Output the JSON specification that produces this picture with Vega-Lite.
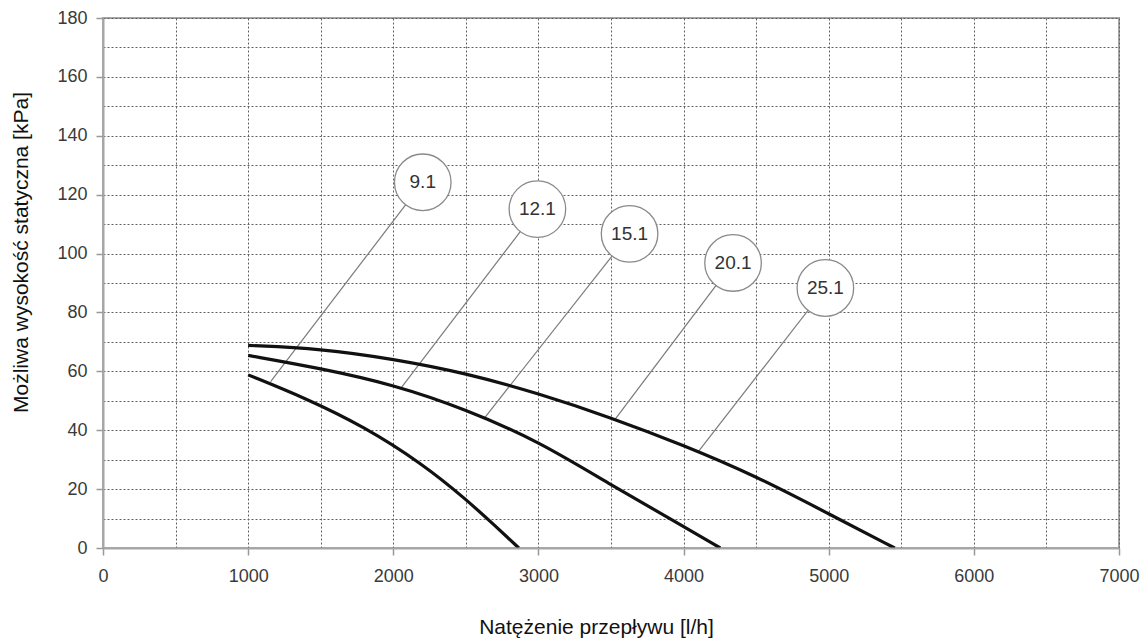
{
  "$schema": "https://vega.github.io/schema/vega-lite/v6.json",
  "width": 1016,
  "height": 530,
  "autosize": {"type": "none"},
  "padding": {"left": 103, "top": 18, "right": 28, "bottom": 93},
  "background": "white",
  "config": {
    "view": {"stroke": "#a6a6a6", "strokeWidth": 2},
    "font": "Liberation Sans"
  },
  "datasets": {
    "curves": [
      {"curve": "A", "flow": 1000, "head": 58.8},
      {"curve": "A", "flow": 1400, "head": 50.8},
      {"curve": "A", "flow": 1800, "head": 41.2},
      {"curve": "A", "flow": 2200, "head": 28.6},
      {"curve": "A", "flow": 2500, "head": 16.6},
      {"curve": "A", "flow": 2700, "head": 7.6},
      {"curve": "A", "flow": 2865, "head": 0},
      {"curve": "B", "flow": 1000, "head": 65.4},
      {"curve": "B", "flow": 1500, "head": 61.0},
      {"curve": "B", "flow": 2000, "head": 55.5},
      {"curve": "B", "flow": 2500, "head": 47.1},
      {"curve": "B", "flow": 3000, "head": 36.3},
      {"curve": "B", "flow": 3500, "head": 21.4},
      {"curve": "B", "flow": 4000, "head": 7.3},
      {"curve": "B", "flow": 4253, "head": 0},
      {"curve": "C", "flow": 1000, "head": 68.8},
      {"curve": "C", "flow": 1500, "head": 67.7},
      {"curve": "C", "flow": 2000, "head": 64.2},
      {"curve": "C", "flow": 2500, "head": 59.4},
      {"curve": "C", "flow": 3000, "head": 52.5},
      {"curve": "C", "flow": 3500, "head": 44.3},
      {"curve": "C", "flow": 4000, "head": 34.9},
      {"curve": "C", "flow": 4500, "head": 24.4},
      {"curve": "C", "flow": 5000, "head": 11.6},
      {"curve": "C", "flow": 5455, "head": 0}
    ],
    "labels": [
      {"model": "9.1", "x0": 1155, "y0": 56.5, "x1": 2203, "y1": 124.2},
      {"model": "12.1", "x0": 2058, "y0": 54.6, "x1": 2993, "y1": 115.1},
      {"model": "15.1", "x0": 2632, "y0": 44.4, "x1": 3628, "y1": 106.7},
      {"model": "20.1", "x0": 3529, "y0": 43.8, "x1": 4341, "y1": 96.8},
      {"model": "25.1", "x0": 4103, "y0": 32.8, "x1": 4977, "y1": 88.3}
    ]
  },
  "resolve": {"axis": {"x": "independent", "y": "independent"}},
  "layer": [
    {
      "data": {"name": "labels"},
      "mark": {"type": "rule", "color": "#7a7a7a", "strokeWidth": 1.2},
      "encoding": {
        "x": {
          "field": "x0", "type": "quantitative",
          "scale": {"domain": [0, 7000], "nice": false, "zero": false},
          "axis": {
            "orient": "bottom",
            "values": [0, 500, 1000, 1500, 2000, 2500, 3000, 3500, 4000, 4500, 5000, 5500, 6000, 6500, 7000],
            "grid": true, "gridColor": "#606060", "gridDash": [2, 2], "gridWidth": 1, "gridOpacity": 1,
            "labels": false, "ticks": false, "domain": false, "title": null, "zindex": 0
          }
        },
        "y": {
          "field": "y0", "type": "quantitative",
          "scale": {"domain": [0, 180], "nice": false},
          "axis": {
            "orient": "left",
            "values": [0, 10, 20, 30, 40, 50, 60, 70, 80, 90, 100, 110, 120, 130, 140, 150, 160, 170, 180],
            "grid": true, "gridColor": "#606060", "gridDash": [2, 2], "gridWidth": 1, "gridOpacity": 1,
            "labels": false, "ticks": false, "domain": false, "title": null, "zindex": 0
          }
        },
        "x2": {"field": "x1"},
        "y2": {"field": "y1"}
      }
    },
    {
      "data": {"name": "curves"},
      "mark": {"type": "line", "interpolate": "basis", "color": "#111111", "strokeWidth": 3.2},
      "encoding": {
        "x": {
          "field": "flow", "type": "quantitative",
          "axis": {
            "orient": "bottom",
            "values": [0, 1000, 2000, 3000, 4000, 5000, 6000, 7000],
            "format": "d",
            "labelOverlap": false,
            "labelFlush": false,
            "grid": false,
            "tickSize": 7, "tickColor": "#999999", "tickWidth": 1.5,
            "domainColor": "#a6a6a6", "domainWidth": 2,
            "labelFontSize": 18, "labelColor": "#3a3a3a", "labelPadding": 12,
            "title": "Natężenie przepływu [l/h]",
            "titleFontSize": 21, "titleFontWeight": "normal", "titleColor": "#111111",
            "titleX": 493, "titleY": 79, "titleBaseline": "middle", "titleAlign": "center",
            "zindex": 1
          }
        },
        "y": {
          "field": "head", "type": "quantitative",
          "axis": {
            "orient": "left",
            "values": [0, 20, 40, 60, 80, 100, 120, 140, 160, 180],
            "format": "d",
            "labelOverlap": false,
            "labelFlush": false,
            "grid": false,
            "tickSize": 7, "tickColor": "#999999", "tickWidth": 1.5,
            "domainColor": "#a6a6a6", "domainWidth": 2,
            "labelFontSize": 18, "labelColor": "#3a3a3a", "labelPadding": 9,
            "title": "Możliwa wysokość statyczna [kPa]",
            "titleFontSize": 21, "titleFontWeight": "normal", "titleColor": "#111111",
            "titleX": -82, "titleY": 234, "titleBaseline": "middle", "titleAlign": "center",
            "zindex": 1
          }
        },
        "detail": {"field": "curve", "type": "nominal"}
      }
    },
    {
      "data": {"name": "labels"},
      "mark": {"type": "point", "shape": "circle", "filled": true, "fill": "white", "stroke": "#8a8a8a", "strokeWidth": 1.3, "size": 3200, "opacity": 1},
      "encoding": {
        "x": {"field": "x1", "type": "quantitative", "axis": null},
        "y": {"field": "y1", "type": "quantitative", "axis": null}
      }
    },
    {
      "data": {"name": "labels"},
      "mark": {"type": "text", "fontSize": 19, "color": "#333333", "baseline": "middle", "align": "center"},
      "encoding": {
        "x": {"field": "x1", "type": "quantitative", "axis": null},
        "y": {"field": "y1", "type": "quantitative", "axis": null},
        "text": {"field": "model", "type": "nominal"}
      }
    }
  ]
}
